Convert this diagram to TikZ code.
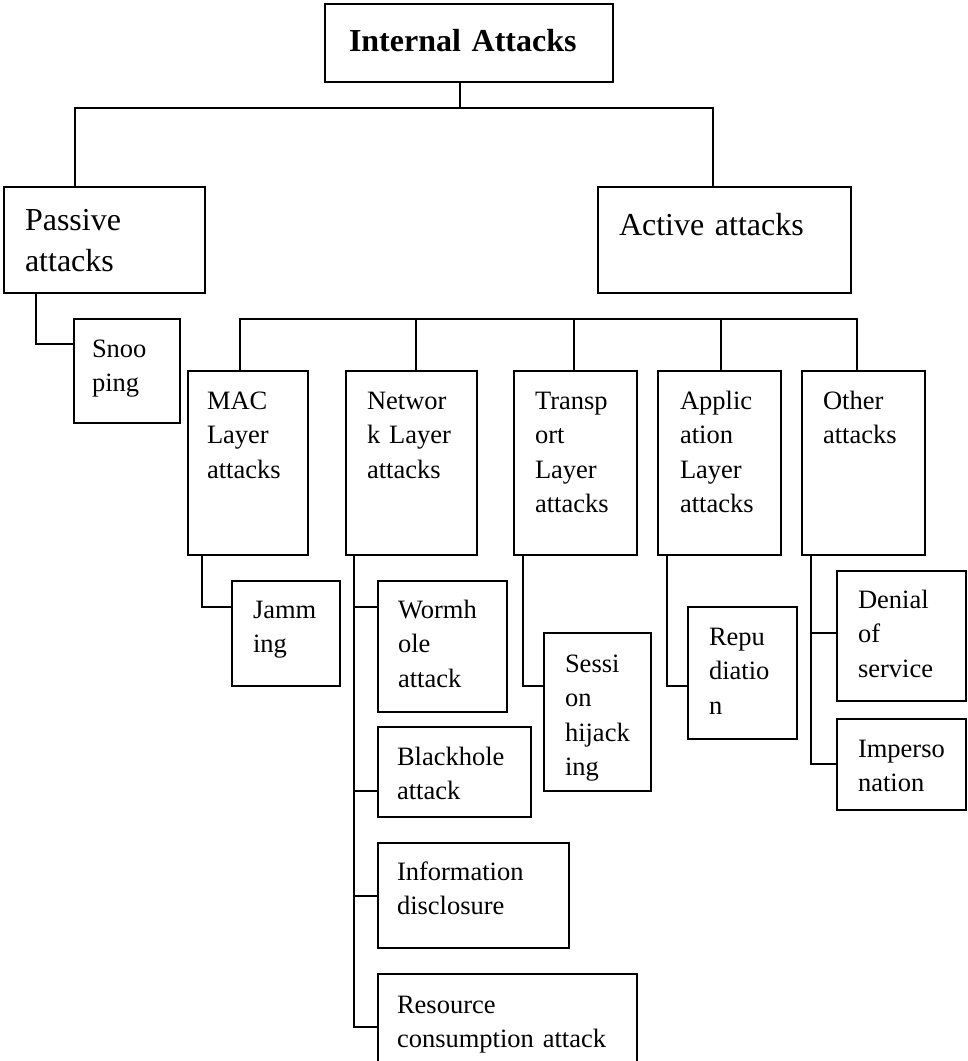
\documentclass[tikz,border=0pt]{standalone}
\usepackage{fontspec}
\setmainfont{Liberation Serif}
\begin{document}
\begin{tikzpicture}[x=1pt,y=-1pt,
  box/.style={draw, line width=1.9pt, anchor=north west, inner sep=0pt, outer sep=0pt},
  conn/.style={line width=1.9pt},
  lbl/.style={anchor=base west, inner sep=0pt, outer sep=0pt, text width=300pt, align=left,
    font=\fontsize{26.5}{34.5}\selectfont},
  biglbl/.style={lbl, font=\fontsize{32}{41}\selectfont}
]
\clip (0,0) rectangle (968,1061);
\fill[white] (0,0) rectangle (968,1061);
% boxes
\node[box, minimum width=288pt, minimum height=78pt] (top) at (325,4) {};
\node[box, minimum width=201pt, minimum height=106pt] (passive) at (4,187) {};
\node[box, minimum width=253pt, minimum height=106pt] (active) at (598,187) {};
\node[box, minimum width=106pt, minimum height=104pt] (snoop) at (74,319) {};
\node[box, minimum width=120pt, minimum height=184pt] (mac) at (188,371) {};
\node[box, minimum width=131pt, minimum height=184pt] (net) at (346,371) {};
\node[box, minimum width=123pt, minimum height=184pt] (trans) at (514,371) {};
\node[box, minimum width=123pt, minimum height=184pt] (app) at (658,371) {};
\node[box, minimum width=123pt, minimum height=184pt] (other) at (802,371) {};
\node[box, minimum width=108pt, minimum height=105pt] (jam) at (232,581) {};
\node[box, minimum width=129pt, minimum height=131pt] (worm) at (378,581) {};
\node[box, minimum width=153pt, minimum height=90pt] (black) at (378,727) {};
\node[box, minimum width=191pt, minimum height=105pt] (info) at (378,843) {};
\node[box, minimum width=259pt, minimum height=110pt] (res) at (378,974) {};
\node[box, minimum width=107pt, minimum height=158pt] (sess) at (544,633) {};
\node[box, minimum width=109pt, minimum height=132pt] (repu) at (688,607) {};
\node[box, minimum width=129pt, minimum height=130pt] (denial) at (837,571) {};
\node[box, minimum width=129pt, minimum height=91pt] (imp) at (837,719) {};
% labels
\node[biglbl, font=\fontsize{32}{41}\selectfont\bfseries] (toplbl) at ([shift={(24,47)}]top.north west) {Internal Attacks};
\node[biglbl] (passivelbl) at ([shift={(21,43)}]passive.north west) {Passive\\attacks};
\node[biglbl] (activelbl) at ([shift={(21,48)}]active.north west) {Active attacks};
\node[lbl] (snooplbl) at ([shift={(18,38)}]snoop.north west) {Snoo\\ping};
\node[lbl] (maclbl) at ([shift={(19,38)}]mac.north west) {MAC\\Layer\\attacks};
\node[lbl] (netlbl) at ([shift={(21,38)}]net.north west) {Networ\\k Layer\\attacks};
\node[lbl] (translbl) at ([shift={(21,38)}]trans.north west) {Transp\\ort\\Layer\\attacks};
\node[lbl] (applbl) at ([shift={(22,38)}]app.north west) {Applic\\ation\\Layer\\attacks};
\node[lbl] (otherlbl) at ([shift={(21,38)}]other.north west) {Other\\attacks};
\node[lbl] (jamlbl) at ([shift={(21,37)}]jam.north west) {Jamm\\ing};
\node[lbl] (wormlbl) at ([shift={(20,37)}]worm.north west) {Wormh\\ole\\attack};
\node[lbl] (blacklbl) at ([shift={(19,38)}]black.north west) {Blackhole\\attack};
\node[lbl] (infolbl) at ([shift={(19,37)}]info.north west) {Information\\disclosure};
\node[lbl] (reslbl) at ([shift={(19,39)}]res.north west) {Resource\\consumption attack};
\node[lbl] (sesslbl) at ([shift={(21,39)}]sess.north west) {Sessi\\on\\hijack\\ing};
\node[lbl] (repulbl) at ([shift={(21,38)}]repu.north west) {Repu\\diatio\\n};
\node[lbl] (deniallbl) at ([shift={(21,37)}]denial.north west) {Denial\\of\\service};
\node[lbl] (implbl) at ([shift={(21,38)}]imp.north west) {Imperso\\nation};
% connectors: root
\path ([xshift=135pt]top.south west) coordinate (tc) ++(0,26) coordinate (j1);
\draw[conn] (tc) -- (j1);
\draw[conn] ([xshift=71pt]passive.north west) |- (j1) -| ([xshift=115pt]active.north west);
% passive
\draw[conn] ([xshift=32pt]passive.south west) |- ([yshift=-25pt]snoop.north west);
% active children bar
\path ([xshift=52pt]mac.north west) coordinate (mc) ++(0,-52) coordinate (j2);
\path ([xshift=70pt]net.north west) coordinate (nc);
\path ([xshift=60pt]trans.north west) coordinate (trc);
\path ([xshift=63pt]app.north west) coordinate (ac);
\path ([xshift=55pt]other.north west) coordinate (oc);
\draw[conn] (mc) -- (j2) -- (oc |- j2) -- (oc);
\draw[conn] (nc) -- (nc |- j2);
\draw[conn] (trc) -- (trc |- j2);
\draw[conn] (ac) -- (ac |- j2);
% MAC
\draw[conn] ([xshift=14pt]mac.south west) |- ([yshift=-26pt]jam.north west);
% Network
\path ([xshift=8pt]net.south west) coordinate (nl);
\path ([yshift=-26pt]worm.north west) coordinate (wp);
\path ([yshift=-64pt]black.north west) coordinate (bp);
\path ([yshift=-53pt]info.north west) coordinate (ip);
\path ([yshift=-53pt]res.north west) coordinate (rp);
\draw[conn] (nl) |- (rp);
\draw[conn] (nl |- wp) -- (wp);
\draw[conn] (nl |- bp) -- (bp);
\draw[conn] (nl |- ip) -- (ip);
% Transport
\draw[conn] ([xshift=9pt]trans.south west) |- ([yshift=-53pt]sess.north west);
% Application
\draw[conn] ([xshift=9pt]app.south west) |- ([yshift=-79pt]repu.north west);
% Other
\path ([xshift=9pt]other.south west) coordinate (ol);
\path ([yshift=-62pt]denial.north west) coordinate (dp);
\path ([yshift=-45pt]imp.north west) coordinate (mp);
\draw[conn] (ol) |- (mp);
\draw[conn] (ol |- dp) -- (dp);
\end{tikzpicture}
\end{document}
